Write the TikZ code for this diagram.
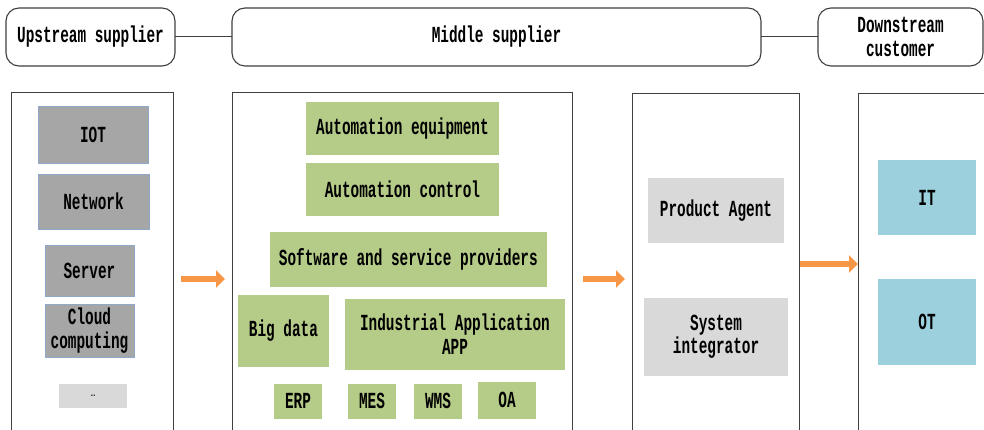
\documentclass[tikz,border=0pt]{standalone}
\usepackage{fontspec}
\setmainfont{Liberation Mono}[FakeStretch=0.625]
\usetikzlibrary{arrows.meta,calc}
\definecolor{linec}{HTML}{404040}
\definecolor{grayfill}{HTML}{A6A6A6}
\definecolor{grayedge}{HTML}{8FA8CC}
\definecolor{greenfill}{HTML}{B5CB88}
\definecolor{lightfill}{HTML}{D9D9D9}
\definecolor{bluefill}{HTML}{9CD0DD}
\definecolor{arrowc}{HTML}{F79646}
\begin{document}
\begin{tikzpicture}[x=1pt,y=-1pt,
  font=\fontsize{23}{23.5}\selectfont\bfseries,
  every node/.style={inner sep=0pt, outer sep=0pt, align=center},
  header/.style={draw=linec, line width=1.1pt, rounded corners=13pt},
  column/.style={draw=linec, line width=1pt},
  techbox/.style={fill=grayfill, draw=grayedge, line width=0.8pt},
  greenbox/.style={fill=greenfill},
  lightbox/.style={fill=lightfill},
  bluebox/.style={fill=bluefill},
  flow/.style={draw=arrowc, line width=6.5pt, -{Triangle[width=17pt,length=9pt]}},
  link/.style={draw=linec, line width=1pt}]
\clip (0,0) rectangle (984,430);
\fill[white] (0,0) rectangle (984,430);

% headers
\node[header, minimum width=169pt, minimum height=58pt] (up) at (90.5,37) {Upstream supplier};
\node[header, minimum width=529pt, minimum height=58pt] (mid) at (496.5,37) {Middle supplier};
\node[header, minimum width=165pt, minimum height=58pt] (down) at (900.5,37) {Downstream\\customer};
\draw[link] (up.east) -- (mid.west);
\draw[link] (mid.east) -- (down.west);

% columns
\node[column, minimum width=162pt, minimum height=357pt] (c1) at (92,271.5) {};
\node[column, minimum width=340pt, minimum height=357pt] (c2) at (402,271.5) {};
\node[column, minimum width=167pt, minimum height=356pt] (c3) at (715.5,272) {};
\node[column, minimum width=142pt, minimum height=356pt] (c4) at (929,272) {};

% upstream items
\node[techbox, minimum width=110pt, minimum height=57pt] (iot) at (93,134.5) {IOT};
\node[techbox, minimum width=111pt, minimum height=55pt] (net) at (93.5,201.5) {Network};
\node[techbox, minimum width=89pt, minimum height=51pt] (srv) at (89.5,270.5) {Server};
\node[techbox, minimum width=89pt, minimum height=53pt] (cloud) at (89.5,330.5) {Cloud\\computing};
\node[lightbox, minimum width=68pt, minimum height=24pt, font=\fontsize{13}{13}\selectfont] (more) at (93,396) {…};

% middle items
\node[greenbox, minimum width=193pt, minimum height=53pt] (ae) at (402.5,128.3) {Automation equipment};
\node[greenbox, minimum width=193pt, minimum height=53pt] (ac) at (402.5,189.3) {Automation control};
\node[greenbox, minimum width=277pt, minimum height=55pt] (ssp) at (408.3,259.7) {Software and service providers};
\node[greenbox, minimum width=91pt, minimum height=72pt] (bd) at (283.5,330.8) {Big data};
\node[greenbox, minimum width=220pt, minimum height=71pt] (iaa) at (455,334.3) {Industrial Application\\APP};
\node[greenbox, minimum width=48pt, minimum height=35pt] (erp) at (298,401.3) {ERP};
\node[greenbox, minimum width=48pt, minimum height=35pt] (mes) at (372,401.3) {MES};
\node[greenbox, minimum width=48pt, minimum height=35pt] (wms) at (438,401.3) {WMS};
\node[greenbox, minimum width=58pt, minimum height=37pt] (oa) at (507,400.3) {OA};

% integrators
\node[lightbox, minimum width=136pt, minimum height=65pt] (pa) at (716,210.3) {Product Agent};
\node[lightbox, minimum width=144pt, minimum height=78pt] (si) at (716,336.8) {System\\integrator};

% customers
\node[bluebox, minimum width=98pt, minimum height=75pt] (it) at (927,197.5) {IT};
\node[bluebox, minimum width=98pt, minimum height=86pt] (ot) at (927,321.8) {OT};

% flow arrows
\draw[flow, shorten <=8pt, shorten >=7pt] ($(c1.east)+(0,7.5)$) -- ($(c2.west)+(0,7.5)$);
\draw[flow, shorten <=11pt, shorten >=7pt] ($(c2.east)+(0,7.5)$) -- ($(c3.west)+(0,7)$);
\draw[flow, shorten <=1pt] ($(c3.east)+(0,-8)$) -- ($(c4.west)+(0,-8)$);
\end{tikzpicture}
\end{document}
